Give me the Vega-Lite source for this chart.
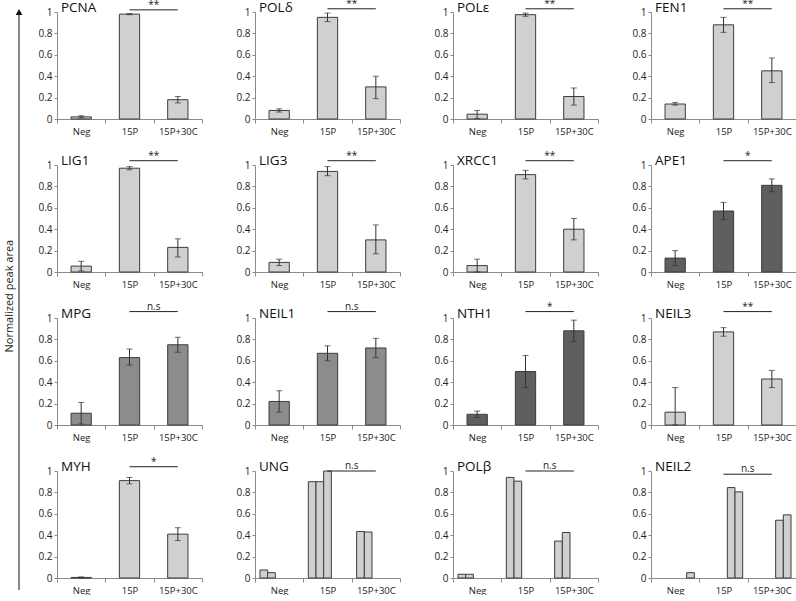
{
  "$schema": "https://vega.github.io/schema/vega-lite/v6.json",
  "padding": {"left": 3, "top": -3, "right": 0, "bottom": 0},
  "background": "white",
  "config": {
    "font": "Open Sans",
    "view": {"stroke": null},
    "axis": {"grid": false, "domainColor": "#8a8a8a", "tickColor": "#8a8a8a", "labelColor": "#222", "title": null},
    "axisY": {"labelOverlap": false, "labelBound": false, "format": "~g", "labelFontSize": 10, "tickSize": 3, "labelPadding": 2}
  },
  "title": {"text": "Normalized peak area", "orient": "left", "anchor": "middle", "fontSize": 11, "fontWeight": "normal", "color": "#222", "offset": 1},
  "spacing": 14,
  "hconcat": [
    {
      "width": 2,
      "height": 578,
      "data": {"values": [{"lo": 0, "hi": 1}]},
      "layer": [
        {
          "mark": {"type": "rule", "color": "#111", "strokeWidth": 1},
          "encoding": {
            "x": {"datum": 0, "type": "quantitative", "scale": {"domain": [-1, 1]}, "axis": null},
            "y": {"field": "lo", "type": "quantitative", "scale": {"domain": [0, 1]}, "axis": null},
            "y2": {"field": "hi"}
          }
        },
        {
          "mark": {"type": "point", "shape": "triangle-up", "filled": true, "color": "#111", "size": 45, "opacity": 1},
          "encoding": {
            "x": {"datum": 0, "type": "quantitative", "scale": {"domain": [-1, 1]}, "axis": null},
            "y": {"field": "hi", "type": "quantitative", "scale": {"domain": [0, 1]}, "axis": null}
          }
        }
      ]
    },
    {
      "data": {"values": [
        {"t": "m", "panel": "PCNA", "cond": "Neg", "value": 0.02, "lo": 0.01, "hi": 0.03},
        {"t": "m", "panel": "PCNA", "cond": "15P", "value": 0.98, "lo": 0.975, "hi": 0.985},
        {"t": "m", "panel": "PCNA", "cond": "15P+30C", "value": 0.18, "lo": 0.15, "hi": 0.21},
        {"t": "m", "panel": "POLδ", "cond": "Neg", "value": 0.08, "lo": 0.065, "hi": 0.095},
        {"t": "m", "panel": "POLδ", "cond": "15P", "value": 0.95, "lo": 0.91, "hi": 0.99},
        {"t": "m", "panel": "POLδ", "cond": "15P+30C", "value": 0.30, "lo": 0.19, "hi": 0.40},
        {"t": "m", "panel": "POLε", "cond": "Neg", "value": 0.045, "lo": 0.005, "hi": 0.08},
        {"t": "m", "panel": "POLε", "cond": "15P", "value": 0.975, "lo": 0.96, "hi": 0.99},
        {"t": "m", "panel": "POLε", "cond": "15P+30C", "value": 0.21, "lo": 0.13, "hi": 0.29},
        {"t": "m", "panel": "FEN1", "cond": "Neg", "value": 0.14, "lo": 0.13, "hi": 0.155},
        {"t": "m", "panel": "FEN1", "cond": "15P", "value": 0.88, "lo": 0.81, "hi": 0.95},
        {"t": "m", "panel": "FEN1", "cond": "15P+30C", "value": 0.45, "lo": 0.34, "hi": 0.57},
        {"t": "m", "panel": "LIG1", "cond": "Neg", "value": 0.055, "lo": 0.01, "hi": 0.10},
        {"t": "m", "panel": "LIG1", "cond": "15P", "value": 0.97, "lo": 0.955, "hi": 0.985},
        {"t": "m", "panel": "LIG1", "cond": "15P+30C", "value": 0.23, "lo": 0.14, "hi": 0.31},
        {"t": "m", "panel": "LIG3", "cond": "Neg", "value": 0.09, "lo": 0.06, "hi": 0.12},
        {"t": "m", "panel": "LIG3", "cond": "15P", "value": 0.94, "lo": 0.90, "hi": 0.985},
        {"t": "m", "panel": "LIG3", "cond": "15P+30C", "value": 0.30, "lo": 0.17, "hi": 0.44},
        {"t": "m", "panel": "XRCC1", "cond": "Neg", "value": 0.06, "lo": 0.0, "hi": 0.12},
        {"t": "m", "panel": "XRCC1", "cond": "15P", "value": 0.91, "lo": 0.87, "hi": 0.95},
        {"t": "m", "panel": "XRCC1", "cond": "15P+30C", "value": 0.40, "lo": 0.30, "hi": 0.50},
        {"t": "m", "panel": "APE1", "cond": "Neg", "value": 0.13, "lo": 0.06, "hi": 0.20},
        {"t": "m", "panel": "APE1", "cond": "15P", "value": 0.57, "lo": 0.49, "hi": 0.65},
        {"t": "m", "panel": "APE1", "cond": "15P+30C", "value": 0.81, "lo": 0.75, "hi": 0.87},
        {"t": "m", "panel": "MPG", "cond": "Neg", "value": 0.11, "lo": 0.01, "hi": 0.21},
        {"t": "m", "panel": "MPG", "cond": "15P", "value": 0.63, "lo": 0.56, "hi": 0.71},
        {"t": "m", "panel": "MPG", "cond": "15P+30C", "value": 0.75, "lo": 0.68, "hi": 0.82},
        {"t": "m", "panel": "NEIL1", "cond": "Neg", "value": 0.22, "lo": 0.12, "hi": 0.32},
        {"t": "m", "panel": "NEIL1", "cond": "15P", "value": 0.67, "lo": 0.60, "hi": 0.74},
        {"t": "m", "panel": "NEIL1", "cond": "15P+30C", "value": 0.72, "lo": 0.63, "hi": 0.81},
        {"t": "m", "panel": "NTH1", "cond": "Neg", "value": 0.10, "lo": 0.07, "hi": 0.13},
        {"t": "m", "panel": "NTH1", "cond": "15P", "value": 0.50, "lo": 0.35, "hi": 0.65},
        {"t": "m", "panel": "NTH1", "cond": "15P+30C", "value": 0.88, "lo": 0.78, "hi": 0.98},
        {"t": "m", "panel": "NEIL3", "cond": "Neg", "value": 0.12, "lo": 0.0, "hi": 0.35},
        {"t": "m", "panel": "NEIL3", "cond": "15P", "value": 0.87, "lo": 0.83, "hi": 0.91},
        {"t": "m", "panel": "NEIL3", "cond": "15P+30C", "value": 0.43, "lo": 0.35, "hi": 0.51},
        {"t": "m", "panel": "MYH", "cond": "Neg", "value": 0.005, "lo": 0.0, "hi": 0.01},
        {"t": "m", "panel": "MYH", "cond": "15P", "value": 0.91, "lo": 0.88, "hi": 0.94},
        {"t": "m", "panel": "MYH", "cond": "15P+30C", "value": 0.41, "lo": 0.35, "hi": 0.47},
        {"t": "r", "panel": "UNG", "cond": "Neg", "rep": "0", "value": 0.075},
        {"t": "r", "panel": "UNG", "cond": "Neg", "rep": "1", "value": 0.05},
        {"t": "r", "panel": "UNG", "cond": "15P", "rep": "0", "value": 0.90},
        {"t": "r", "panel": "UNG", "cond": "15P", "rep": "1", "value": 0.90},
        {"t": "r", "panel": "UNG", "cond": "15P", "rep": "2", "value": 1.0},
        {"t": "r", "panel": "UNG", "cond": "15P+30C", "rep": "0", "value": 0.435},
        {"t": "r", "panel": "UNG", "cond": "15P+30C", "rep": "1", "value": 0.43},
        {"t": "r", "panel": "POLβ", "cond": "Neg", "rep": "0", "value": 0.035},
        {"t": "r", "panel": "POLβ", "cond": "Neg", "rep": "1", "value": 0.035},
        {"t": "r", "panel": "POLβ", "cond": "15P", "rep": "0", "value": 0.94},
        {"t": "r", "panel": "POLβ", "cond": "15P", "rep": "1", "value": 0.905},
        {"t": "r", "panel": "POLβ", "cond": "15P+30C", "rep": "0", "value": 0.345},
        {"t": "r", "panel": "POLβ", "cond": "15P+30C", "rep": "1", "value": 0.425},
        {"t": "r", "panel": "NEIL2", "cond": "Neg", "rep": "4", "value": 0.05},
        {"t": "r", "panel": "NEIL2", "cond": "15P", "rep": "3", "value": 0.845},
        {"t": "r", "panel": "NEIL2", "cond": "15P", "rep": "4", "value": 0.805},
        {"t": "r", "panel": "NEIL2", "cond": "15P+30C", "rep": "3", "value": 0.54},
        {"t": "r", "panel": "NEIL2", "cond": "15P+30C", "rep": "4", "value": 0.59},
        {"t": "s", "panel": "PCNA", "sig": "**", "sy": 1.02},
        {"t": "s", "panel": "POLδ", "sig": "**", "sy": 1.03},
        {"t": "s", "panel": "POLε", "sig": "**", "sy": 1.03},
        {"t": "s", "panel": "FEN1", "sig": "**", "sy": 1.03},
        {"t": "s", "panel": "LIG1", "sig": "**", "sy": 1.04},
        {"t": "s", "panel": "LIG3", "sig": "**", "sy": 1.04},
        {"t": "s", "panel": "XRCC1", "sig": "**", "sy": 1.04},
        {"t": "s", "panel": "APE1", "sig": "*", "sy": 1.04},
        {"t": "s", "panel": "MPG", "sig": "n.s", "sy": 1.06},
        {"t": "s", "panel": "NEIL1", "sig": "n.s", "sy": 1.06},
        {"t": "s", "panel": "NTH1", "sig": "*", "sy": 1.06},
        {"t": "s", "panel": "NEIL3", "sig": "**", "sy": 1.06},
        {"t": "s", "panel": "MYH", "sig": "*", "sy": 1.04},
        {"t": "s", "panel": "UNG", "sig": "n.s", "sy": 1.0},
        {"t": "s", "panel": "POLβ", "sig": "n.s", "sy": 1.0},
        {"t": "s", "panel": "NEIL2", "sig": "n.s", "sy": 0.97}
      ]},
      "facet": {
        "field": "panel", "type": "nominal",
        "sort": ["PCNA", "POLδ", "POLε", "FEN1", "LIG1", "LIG3", "XRCC1", "APE1", "MPG", "NEIL1", "NTH1", "NEIL3", "MYH", "UNG", "POLβ", "NEIL2"],
        "title": null,
        "header": {"title": null, "labelExpr": "''", "labelPadding": 0, "labelFontSize": 1}
      },
      "columns": 4,
      "spacing": {"row": 11, "column": 32},
      "resolve": {"axis": {"x": "independent", "y": "independent"}},
      "spec": {
        "width": 145,
        "height": 107,
        "encoding": {
          "x": {
            "field": "cond", "type": "nominal", "title": null,
            "scale": {"domain": ["Neg", "15P", "15P+30C"], "paddingInner": 0, "paddingOuter": 0},
            "axis": {"tickBand": "extent", "labelAngle": 0, "labelFontSize": 9.5, "tickSize": 4, "labelPadding": 3, "title": null}
          }
        },
        "layer": [
          {
            "transform": [{"filter": "datum.t === 'm'"}],
            "mark": {"type": "bar", "width": {"band": 0.42}, "stroke": "#3c3c3c", "strokeWidth": 1},
            "encoding": {
              "y": {
                "field": "value", "type": "quantitative", "title": null,
                "scale": {"domain": [0, 1]},
                "axis": {"values": [0, 0.2, 0.4, 0.6, 0.8, 1], "title": null}
              },
              "color": {"field": "panel", "type": "nominal", "legend": null,
                "scale": {"domain": ["PCNA", "POLδ", "POLε", "FEN1", "LIG1", "LIG3", "XRCC1", "APE1", "MPG", "NEIL1", "NTH1", "NEIL3", "MYH", "UNG", "POLβ", "NEIL2"],
                  "range": ["#d0d0d0", "#d0d0d0", "#d0d0d0", "#d0d0d0", "#d0d0d0", "#d0d0d0", "#d0d0d0", "#5f5f5f", "#8c8c8c", "#8c8c8c", "#5f5f5f", "#d0d0d0", "#d0d0d0", "#d0d0d0", "#d0d0d0", "#d0d0d0"]}}
            }
          },
          {
            "transform": [{"filter": "datum.t === 'm'"}],
            "mark": {"type": "rule", "color": "#333", "strokeWidth": 1},
            "encoding": {
              "y": {"field": "lo", "type": "quantitative", "title": null, "axis": {"values": [0, 0.2, 0.4, 0.6, 0.8, 1], "title": null}},
              "y2": {"field": "hi"}
            }
          },
          {
            "transform": [{"filter": "datum.t === 'm'"}],
            "mark": {"type": "tick", "color": "#333", "thickness": 1, "size": 6, "orient": "horizontal"},
            "encoding": {
              "y": {"field": "lo", "type": "quantitative", "title": null, "axis": {"values": [0, 0.2, 0.4, 0.6, 0.8, 1], "title": null}}
            }
          },
          {
            "transform": [{"filter": "datum.t === 'm'"}],
            "mark": {"type": "tick", "color": "#333", "thickness": 1, "size": 6, "orient": "horizontal"},
            "encoding": {
              "y": {"field": "hi", "type": "quantitative", "title": null, "axis": {"values": [0, 0.2, 0.4, 0.6, 0.8, 1], "title": null}}
            }
          },
          {
            "transform": [{"filter": "datum.t === 'r'"}],
            "mark": {"type": "bar", "stroke": "#3c3c3c", "strokeWidth": 1},
            "encoding": {
              "xOffset": {"field": "rep", "type": "nominal", "scale": {"domain": ["0", "1", "2", "3", "4"], "paddingInner": 0, "paddingOuter": 0.65}},
              "y": {"field": "value", "type": "quantitative", "title": null, "axis": {"values": [0, 0.2, 0.4, 0.6, 0.8, 1], "title": null}},
              "color": {"field": "panel", "type": "nominal", "legend": null}
            }
          },
          {
            "transform": [{"filter": "datum.t === 's'"}],
            "mark": {"type": "rule", "color": "#222", "strokeWidth": 1},
            "encoding": {
              "x": {"datum": "15P"},
              "x2": {"datum": "15P+30C"},
              "y": {"field": "sy", "type": "quantitative", "title": null, "axis": {"values": [0, 0.2, 0.4, 0.6, 0.8, 1], "title": null}}
            }
          },
          {
            "transform": [{"filter": "datum.t === 's'"}],
            "mark": {"type": "text", "baseline": "bottom", "dy": 0, "fontSize": 10, "color": "#222"},
            "encoding": {
              "x": {"datum": "15P", "bandPosition": 1},
              "y": {"field": "sy", "type": "quantitative", "title": null, "axis": {"values": [0, 0.2, 0.4, 0.6, 0.8, 1], "title": null}},
              "text": {"field": "sig"}
            }
          },
          {
            "transform": [{"filter": "datum.t === 's'"}],
            "mark": {"type": "text", "align": "left", "baseline": "middle", "dx": 4, "fontSize": 13.5, "color": "#111"},
            "encoding": {
              "x": {"datum": "Neg", "bandPosition": 0},
              "y": {"datum": 1.04, "type": "quantitative", "title": null, "axis": {"values": [0, 0.2, 0.4, 0.6, 0.8, 1], "title": null}},
              "text": {"field": "panel"}
            }
          }
        ]
      }
    }
  ]
}
